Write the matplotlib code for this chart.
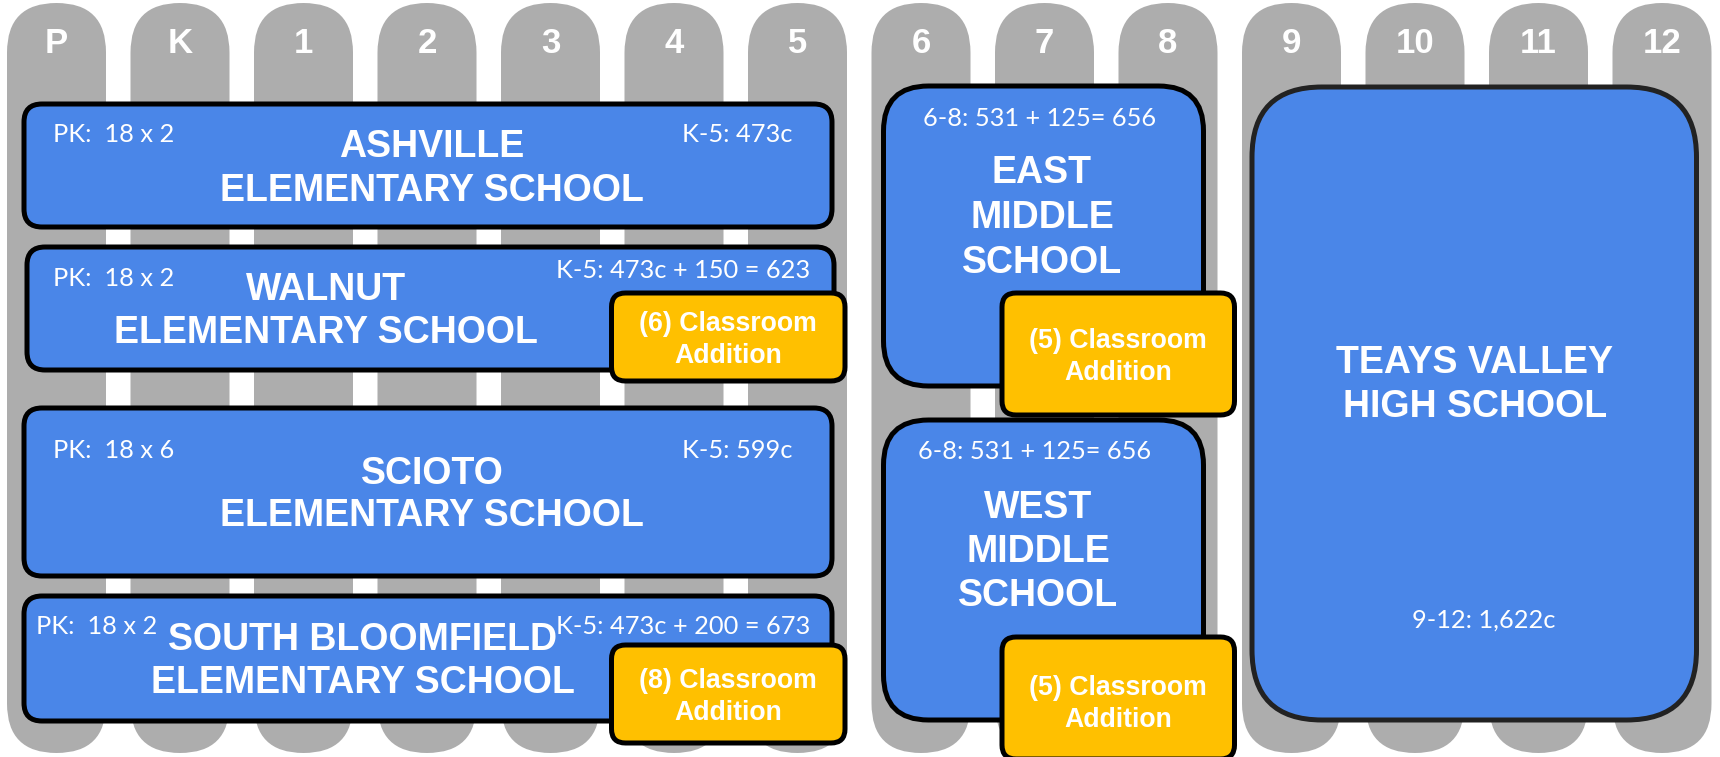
import matplotlib
matplotlib.use("Agg")
import matplotlib.pyplot as plt
from matplotlib.patches import FancyBboxPatch

# grade columns along the top
grades = ['P', 'K', '1', '2', '3', '4', '5', '6', '7', '8', '9', '10', '11', '12']

# schools: name, first grade, last grade
school_names = ['ASHVILLE\nELEMENTARY SCHOOL',
                'WALNUT\nELEMENTARY SCHOOL',
                'SCIOTO\nELEMENTARY SCHOOL',
                'SOUTH BLOOMFIELD\nELEMENTARY SCHOOL',
                'EAST\nMIDDLE\nSCHOOL',
                'WEST\nMIDDLE\nSCHOOL',
                'TEAYS VALLEY\nHIGH SCHOOL']
school_first = ['P', 'P', 'P', 'P', '6', '6', '9']
school_last = ['5', '5', '5', '5', '8', '8', '12']

pk_notes = ['PK:  18 x 2', 'PK:  18 x 2', 'PK:  18 x 6', 'PK:  18 x 2']
cap_notes = ['K-5: 473c', 'K-5: 473c + 150 = 623', 'K-5: 599c',
             'K-5: 473c + 200 = 673', '6-8: 531 + 125= 656',
             '6-8: 531 + 125= 656', '9-12: 1,622c']

# classroom additions: label, school index, grades covered
add_labels = ['(6) Classroom\nAddition', '(8) Classroom\nAddition',
              '(5) Classroom\nAddition', '(5) Classroom\nAddition']
add_school = [1, 3, 4, 5]
add_first = ['4', '4', '7', '7']
add_last = ['5', '5', '8', '8']

# colours
GRAY = '#ADADAD'
BLUE = '#4A86E8'
YELLOW = '#FFC000'

# layout (pixels)
col_x0, col_pitch, col_w = 7, 123.5, 99
box_top = [104, 247, 408, 596, 86, 420, 87]
box_bot = [227, 370, 576, 721, 386, 720, 720]
box_pad = [(17, 15), (20, 13), (17, 15), (17, 15), (12, 14), (12, 14), (10, 15)]
box_r = [18, 18, 18, 18, 45, 45, 70]
name_x = [432, 326, 432, 363, 1042, 1038, 1475]
name_yc = [166, 308, 492, 658, 215, 549, 382]
name_gap = [44, 43, 42, 43, 45, 44, 44]
pk_xy = [(53, 133), (53, 277), (53, 449), (36, 625)]
cap_xy = [(682, 133, 'left'), (810, 269, 'right'), (682, 449, 'left'),
          (810, 625, 'right'), (1040, 117, 'center'), (1035, 450, 'center'),
          (1484, 618, 'center')]
add_top = [293, 645, 293, 637]
add_bot = [381, 743, 415, 759]
add_yc = [337, 694, 354, 701]
add_off = [(-13, -2), (-13, -2), (7, 17), (7, 17)]

NAME_FS = 27
NOTE_FS = 18.3
ADD_FS = 19.2
GRADE_FS = 25
PX = 100 / 72.0


def col_left(g):
    return col_x0 + grades.index(g) * col_pitch


def col_right(g):
    return col_left(g) + col_w


def caps_text(x, yc, s, fs, family, weight='normal', ha='center', capr=0.716):
    # place text so that the capitals are centred on yc
    ax.text(x, yc + fs * PX * capr / 2, s, color='white', fontsize=fs,
            fontweight=weight, family=family, ha=ha, va='baseline', zorder=6)


fig = plt.figure(figsize=(17.2, 7.57), dpi=100)
ax = fig.add_axes([0, 0, 1, 1])
ax.set_xlim(0, 1720)
ax.set_ylim(757, 0)
ax.axis('off')

bold = ['Liberation Sans', 'DejaVu Sans']
light = ['Lato', 'DejaVu Sans']

# grade columns
for g in grades:
    ax.add_patch(FancyBboxPatch((col_left(g), 3), col_w, 750,
                                boxstyle='round,pad=0,rounding_size=49.5',
                                fc=GRAY, ec='none', zorder=1))
    caps_text(col_left(g) + col_w / 2, 41, g, GRADE_FS, bold, 'bold')

# school boxes
for i, name in enumerate(school_names):
    x0 = col_left(school_first[i]) + box_pad[i][0]
    x1 = col_right(school_last[i]) - box_pad[i][1]
    ec = '#222222' if i == 6 else 'black'
    ax.add_patch(FancyBboxPatch((x0, box_top[i]), x1 - x0, box_bot[i] - box_top[i],
                                boxstyle='round,pad=0,rounding_size=%d' % box_r[i],
                                fc=BLUE, ec=ec, lw=3.6, zorder=3))
    lines = name.split('\n')
    n = len(lines)
    for k, line in enumerate(lines):
        y = name_yc[i] + (k - (n - 1) / 2) * name_gap[i]
        caps_text(name_x[i], y, line, NAME_FS, bold, 'bold')

for i, note in enumerate(pk_notes):
    caps_text(pk_xy[i][0], pk_xy[i][1], note, NOTE_FS, light, ha='left', capr=0.72)

for i, note in enumerate(cap_notes):
    x, y, ha = cap_xy[i]
    caps_text(x, y, note, NOTE_FS, light, ha=ha, capr=0.72)

# classroom additions
for i, lab in enumerate(add_labels):
    x0 = col_left(add_first[i]) + add_off[i][0]
    x1 = col_right(add_last[i]) + add_off[i][1]
    ax.add_patch(FancyBboxPatch((x0, add_top[i]), x1 - x0, add_bot[i] - add_top[i],
                                boxstyle='round,pad=0,rounding_size=14',
                                fc=YELLOW, ec='black', lw=3.6, zorder=4))
    lines = lab.split('\n')
    for k, line in enumerate(lines):
        y = add_yc[i] + (k - 0.5) * 32
        caps_text((x0 + x1) / 2, y, line, ADD_FS, bold, 'bold')

fig.savefig('out.png', dpi=100)
